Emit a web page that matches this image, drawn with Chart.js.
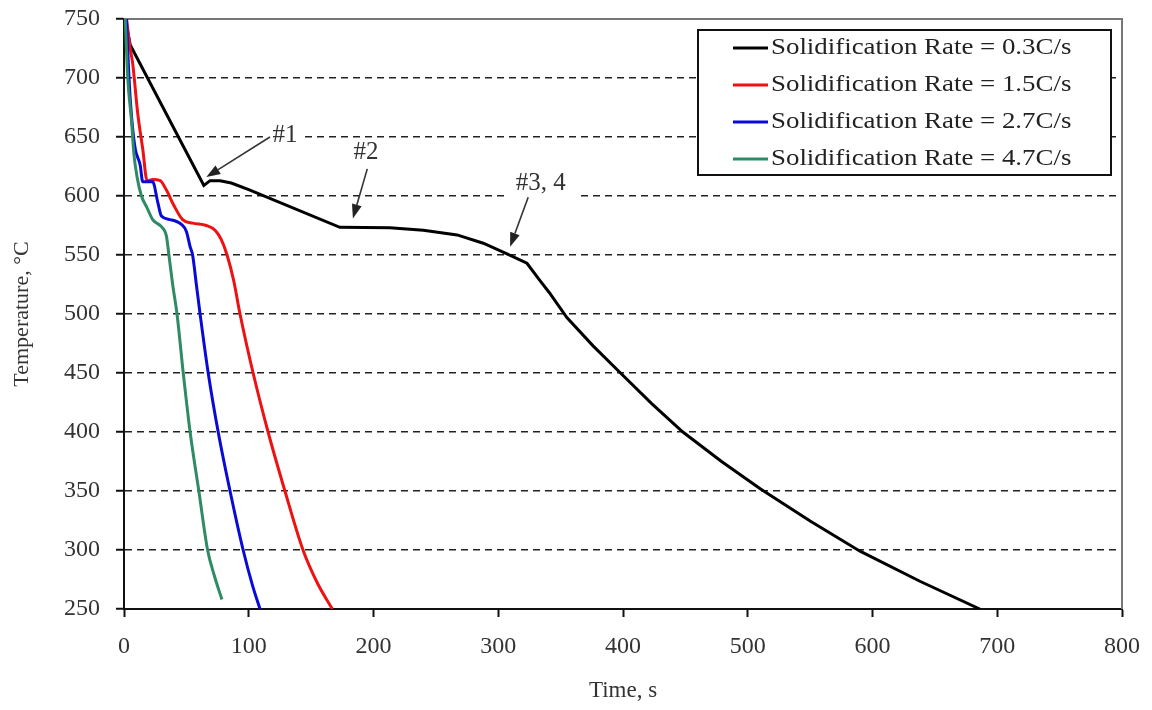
<!DOCTYPE html>
<html lang="en">
<head>
<meta charset="UTF-8">
<title>Cooling curves</title>
<script src="https://cdn.jsdelivr.net/npm/chart.js"></script>
<style>
  html, body { margin: 0; padding: 0; background: #fff; }
  #wrap { width: 1152px; height: 710px; }
</style>
</head>
<body>
<div id="wrap"><canvas id="cool"></canvas></div>
<script>
// cooling curves (time in s, temperature in C)
var time03 = [1, 5, 64, 69, 77, 86, 101, 173, 213, 240, 267, 288, 307, 323, 333, 341, 355, 376, 398, 423, 448, 479, 510, 550, 590, 638, 686];
var temp03 = [750, 728, 609, 613, 613, 611, 605, 573.5, 573, 571, 567, 560, 551, 543, 529, 518, 497, 473, 450, 424, 400, 375, 352, 324.5, 299, 273.5, 250];

var time15 = [2, 5, 7, 11, 15, 18.5, 23, 29, 34, 40, 47, 55, 66, 73, 78, 82.6, 88, 93, 103.5, 115.5, 129, 143.5, 155, 167];
var temp15 = [750, 725, 712, 670, 640, 613, 614, 613, 605, 592, 580, 577, 575, 571, 563, 550, 528, 500, 450, 400, 350, 300, 272, 250];

var time27 = [2, 4, 6, 9, 13, 15, 23, 27, 30, 37, 46, 50, 53, 55, 58, 61, 67.5, 75.5, 85, 95.5, 103, 109];
var temp27 = [750, 700, 668, 640, 626, 612, 612, 595, 583, 580, 576, 570, 557, 550, 525, 500, 450, 400, 350, 300, 270, 250];

var time47 = [1, 3, 6, 8, 10.5, 14, 18.5, 23, 30, 34, 36, 39, 42.5, 47.5, 53, 60, 67, 72.5, 78.5];
var temp47 = [750, 700, 664, 635, 616, 600, 590, 580, 574, 566, 550, 525, 500, 450, 400, 350, 300, 278, 258];

var seriesNames = ['Solidification Rate = 0.3C/s', 'Solidification Rate = 1.5C/s',
                   'Solidification Rate = 2.7C/s', 'Solidification Rate = 4.7C/s'];
var seriesColors = ['#000000', '#ee1111', '#0a0ad8', '#2f8a66'];

var xMin = 0, xMax = 800, xStep = 100;
var yMin = 250, yMax = 750, yStep = 50;

function pts(xs, ys) {
    return xs.map(function (x, i) { return { x: x, y: ys[i] }; });
}

var serif = '"Liberation Serif", "Times New Roman", serif';

// arrow notes, in data units
var notes = [
    { text: '#1', x: 129, y: 651, fx: 117, fy: 650, tx: 66, ty: 616, boxL: 22, boxR: 16 },
    { text: '#2', x: 194, y: 637, fx: 195, fy: 623, tx: 183.5, ty: 581, boxL: 18, boxR: 36 },
    { text: '#3, 4', x: 334, y: 611, fx: 324, fy: 599, tx: 309.5, ty: 557, boxL: 34, boxR: 36 }
];

var framePlugin = {
    id: 'frame',
    beforeDatasetsDraw: function (chart) {
        var ctx = chart.ctx, a = chart.chartArea;
        ctx.save();
        ctx.strokeStyle = '#777';
        ctx.lineWidth = 2;
        ctx.beginPath();
        ctx.moveTo(a.left, a.top);
        ctx.lineTo(a.right, a.top);
        ctx.lineTo(a.right, a.bottom);
        ctx.stroke();
        // white boxes behind the notes
        var xs = chart.scales.x, ys = chart.scales.y;
        ctx.fillStyle = '#fff';
        notes.forEach(function (n) {
            var cx = xs.getPixelForValue(n.x), cy = ys.getPixelForValue(n.y);
            ctx.fillRect(cx - n.boxL, cy - 14, n.boxL + n.boxR, 28);
        });
        ctx.restore();
    },
    afterDatasetsDraw: function (chart) {
        var ctx = chart.ctx, a = chart.chartArea;
        var xs = chart.scales.x, ys = chart.scales.y;
        ctx.save();
        // notes and arrows
        notes.forEach(function (n) {
            var cx = xs.getPixelForValue(n.x), cy = ys.getPixelForValue(n.y);
            ctx.font = '25px ' + serif;
            ctx.fillStyle = '#333';
            ctx.textAlign = 'center';
            ctx.textBaseline = 'middle';
            ctx.fillText(n.text, cx, cy);
            var x1 = xs.getPixelForValue(n.fx), y1 = ys.getPixelForValue(n.fy);
            var x2 = xs.getPixelForValue(n.tx), y2 = ys.getPixelForValue(n.ty);
            var ang = Math.atan2(y2 - y1, x2 - x1);
            var hl = 14, hw = 5;
            var bx = x2 - hl * Math.cos(ang), by = y2 - hl * Math.sin(ang);
            ctx.strokeStyle = '#333';
            ctx.lineWidth = 1.6;
            ctx.beginPath();
            ctx.moveTo(x1, y1);
            ctx.lineTo(bx, by);
            ctx.stroke();
            ctx.fillStyle = '#222';
            ctx.beginPath();
            ctx.moveTo(x2, y2);
            ctx.lineTo(bx + hw * Math.sin(ang), by - hw * Math.cos(ang));
            ctx.lineTo(bx - hw * Math.sin(ang), by + hw * Math.cos(ang));
            ctx.closePath();
            ctx.fill();
        });

        // legend box, top right inside the plot
        var lx = a.right - 424, ly = a.top + 11, lw = 413, lh = 145;
        ctx.fillStyle = '#fff';
        ctx.fillRect(lx, ly, lw, lh);
        ctx.strokeStyle = '#111';
        ctx.lineWidth = 2;
        ctx.strokeRect(lx, ly, lw, lh);
        chart.data.datasets.forEach(function (ds, i) {
            var ry = ly + 18 + i * 37;
            ctx.strokeStyle = ds.borderColor;
            ctx.lineWidth = 3;
            ctx.beginPath();
            ctx.moveTo(lx + 35, ry);
            ctx.lineTo(lx + 70, ry);
            ctx.stroke();
            ctx.save();
            ctx.translate(lx + 73, ry);
            ctx.scale(1.12, 1);
            ctx.font = '24px ' + serif;
            ctx.fillStyle = '#222';
            ctx.textAlign = 'left';
            ctx.textBaseline = 'middle';
            ctx.fillText(ds.label, 0, 0);
            ctx.restore();
        });
        ctx.restore();
    }
};

var datasets = [pts(time03, temp03), pts(time15, temp15), pts(time27, temp27), pts(time47, temp47)]
    .map(function (d, i) {
        var ds = {
            label: seriesNames[i],
            data: d,
            borderColor: seriesColors[i],
            backgroundColor: seriesColors[i],
            borderWidth: 3,
            pointRadius: 0,
            fill: false,
            order: 3 - i
        };
        // black curve keeps its sharp corners, the fast ones are rounded
        if (i === 0) ds.tension = 0;
        else ds.cubicInterpolationMode = 'monotone';
        return ds;
    });

var ctx = document.getElementById('cool').getContext('2d');
var chart = new Chart(ctx, {
    type: 'line',
    data: { datasets: datasets },
    options: {
        responsive: true,
        maintainAspectRatio: false,
        animation: false,
        layout: { padding: { left: 0, right: 30, top: 19, bottom: 0 } },
        plugins: {
            legend: { display: false },
            tooltip: { enabled: false }
        },
        scales: {
            x: {
                type: 'linear',
                min: xMin, max: xMax,
                afterFit: function (s) { s.height = 101; s.paddingLeft = 0; s.paddingRight = 0; },
                ticks: {
                    stepSize: xStep,
                    padding: 15,
                    color: '#333',
                    font: { family: serif, size: 24 }
                },
                grid: { drawOnChartArea: false, drawTicks: true, tickLength: 8, tickColor: '#111', tickWidth: 2 },
                border: { display: true, color: '#111', width: 2 },
                title: {
                    display: true,
                    text: 'Time, s',
                    color: '#333',
                    font: { family: serif, size: 23 },
                    padding: { top: 0, bottom: 5 }
                }
            },
            y: {
                type: 'linear',
                min: yMin, max: yMax,
                afterFit: function (s) { s.width = 124; s.paddingTop = 0; s.paddingBottom = 0; },
                ticks: {
                    stepSize: yStep,
                    padding: 16,
                    color: '#333',
                    font: { family: serif, size: 24 }
                },
                grid: {
                    color: function (c) {
                        return (c.tick && (c.tick.value === yMax || c.tick.value === yMin)) ? 'rgba(0,0,0,0)' : '#222';
                    },
                    lineWidth: 1.5,
                    tickLength: 8,
                    tickColor: '#111',
                    tickWidth: 2,
                    tickBorderDash: []
                },
                border: { display: true, color: '#111', width: 2, dash: [7, 5] },
                title: {
                    display: true,
                    text: 'Temperature, °C',
                    color: '#333',
                    font: { family: serif, size: 22 },
                    padding: { top: 9, bottom: 0 }
                }
            }
        }
    },
    plugins: [framePlugin]
});
</script>
</body>
</html>
